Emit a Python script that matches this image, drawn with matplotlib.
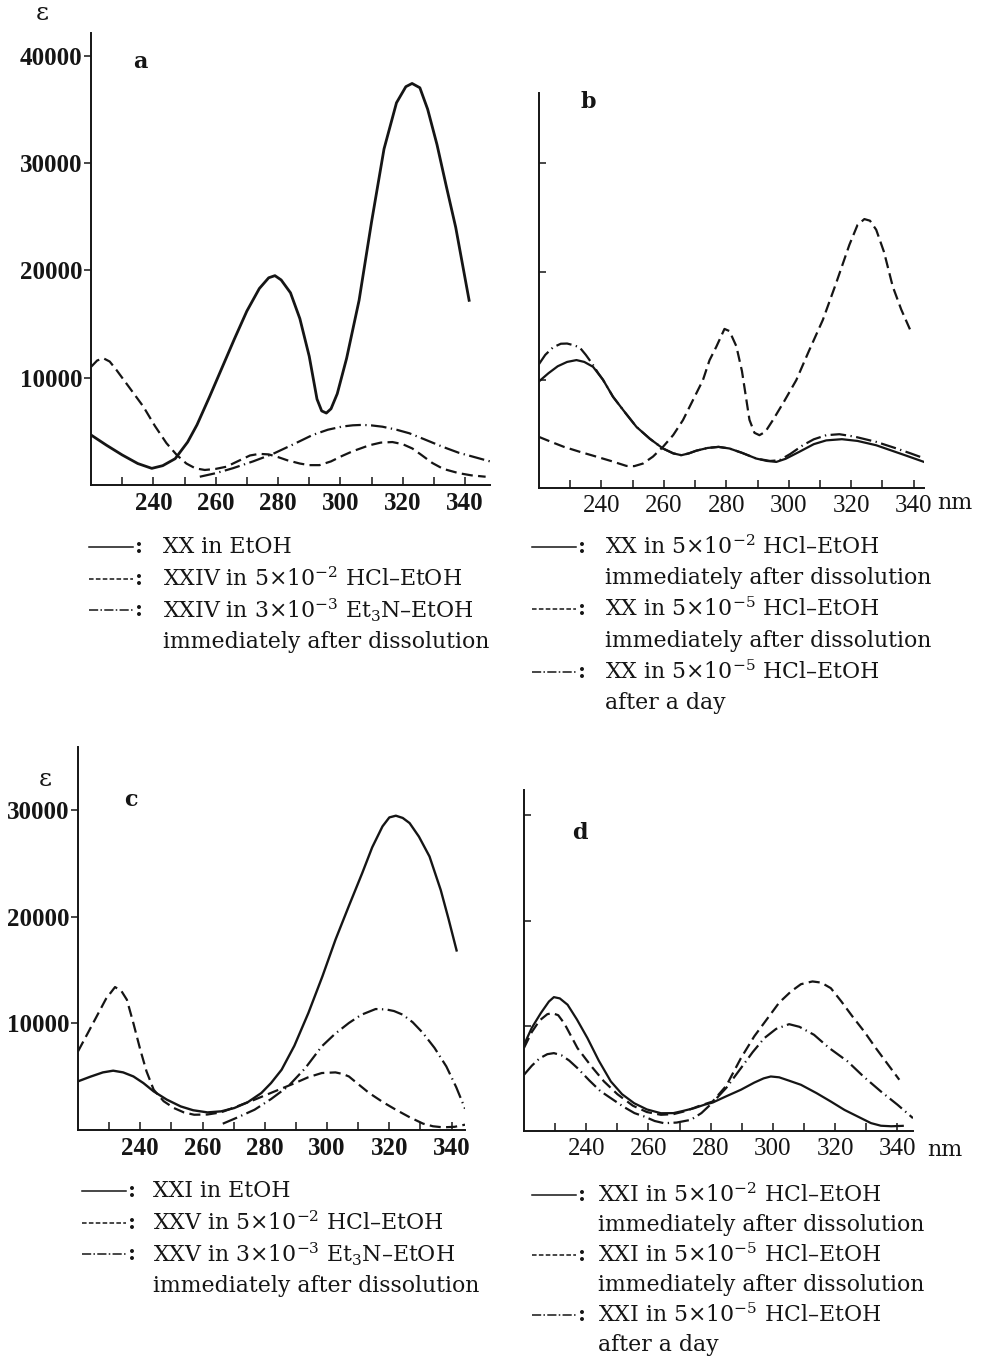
import matplotlib
matplotlib.use("Agg")
import matplotlib.pyplot as plt
from matplotlib.lines import Line2D

plt.rcParams['mathtext.fontset'] = 'dejavuserif'
W, H = 981, 1358
INK = '#151515'

# ---------------- data (wavelength nm, epsilon) ----------------
# panel a
a_xx_x = [220, 225, 230, 235, 239.5, 243, 247, 251, 254, 258, 262, 266, 270, 274, 277, 279, 281, 284, 287, 290,
          292.5, 294, 295.5, 297, 299, 302, 306, 310, 314, 318, 321, 323, 325.5, 328, 331, 334, 337, 341.3]
a_xx_y = [4660, 3700, 2800, 2000, 1550, 1800, 2450, 4000, 5600, 8200, 10900, 13600, 16200, 18300, 19300, 19500,
          19100, 17900, 15500, 12000, 8000, 6900, 6700, 7100, 8500, 11800, 17200, 24500, 31300, 35600, 37100,
          37400, 37000, 35000, 31700, 27800, 24000, 17200]
a_hcl_x = [220, 222, 224, 226, 228.2, 232, 236.8, 240.5, 244.2, 247.5, 250.6, 253.5, 256.5, 260, 263.4, 267, 271,
           274, 277, 280, 283, 287, 290, 293.3, 297, 300.5, 304, 309.3, 313, 316.7, 320, 323.1, 326, 329.5, 333,
           338, 342, 346.6]
a_hcl_y = [11000, 11600, 11800, 11500, 10700, 9200, 7300, 5500, 3900, 2800, 2000, 1550, 1400, 1500, 1700, 2200,
           2750, 2900, 2850, 2600, 2300, 2000, 1850, 1850, 2200, 2700, 3150, 3700, 3950, 4000, 3800, 3400, 2800,
           2050, 1500, 1100, 900, 770]
a_et_x = [254.9, 260, 265.5, 272, 278.3, 285, 291.1, 296, 300.7, 304, 307.1, 310, 313.5, 318, 322.1, 327, 332.7,
          338, 343, 348]
a_et_y = [770, 1100, 1560, 2200, 2890, 3800, 4660, 5150, 5450, 5560, 5600, 5550, 5430, 5150, 4820, 4250, 3570,
          3000, 2600, 2200]

# panel b
b_s_x = [220, 223, 226, 229, 232, 234.5, 237.3, 240.5, 243.7, 247.5, 251.2, 255.5, 259.7, 263, 265.6, 268, 270.4,
         274, 277.5, 281, 285, 289.6, 293, 296, 299, 303.4, 308, 312, 317, 322, 328, 333, 338, 343.3]
b_s_y = [9850, 10600, 11250, 11650, 11820, 11650, 11200, 10000, 8430, 7000, 5650, 4550, 3650, 3200, 3030, 3200,
         3450, 3700, 3800, 3650, 3250, 2720, 2500, 2410, 2700, 3350, 4050, 4400, 4510, 4350, 3950, 3450, 2950, 2410]
b_d_x = [220, 224, 228, 233, 238.7, 243, 248, 250.5, 253.3, 256.5, 259.7, 263, 266.1, 269.3, 272.5, 274.6, 276.8,
         279.4, 281, 283.2, 285, 287.4, 289, 290.6, 292.5, 294.9, 298.5, 302.4, 306.5, 310.9, 315, 319.4, 322,
         324.2, 326, 328, 330.5, 333.3, 336, 338.8]
b_d_y = [4720, 4250, 3800, 3350, 2870, 2500, 2040, 2020, 2260, 2900, 3800, 4900, 6270, 8120, 9970, 11800, 13060,
         14700, 14500, 13100, 10800, 6300, 5100, 4880, 5200, 6270, 8000, 9970, 12700, 15530, 18800, 22470, 24300,
         24850, 24700, 23860, 21800, 18610, 16500, 14660]
b_dd_x = [220, 222, 224.5, 227, 229, 231, 233, 235, 237, 239, 240.5, 243.7, 247.5, 251.2, 255.5, 259.7, 263, 265.6,
          268, 270.4, 274, 277.5, 281, 285, 289.6, 292, 294, 297, 300.5, 304.5, 308, 312, 316.2, 321, 328, 334,
          339, 343.3]
b_dd_y = [11450, 12300, 13000, 13330, 13350, 13200, 13000, 12300, 11500, 10600, 10000, 8430, 7000, 5650, 4550,
          3650, 3200, 3030, 3200, 3450, 3700, 3800, 3650, 3250, 2720, 2600, 2500, 2560, 3150, 3950, 4500, 4880,
          4970, 4750, 4260, 3700, 3200, 2750]

# panel c
c_xxi_x = [220, 224, 228, 231.3, 234.5, 237.8, 241, 244.3, 248.5, 253, 257, 261.6, 266, 270.2, 274.5, 278.9, 282,
           285.4, 289.5, 294, 298.5, 302.7, 307, 311.3, 314.5, 317.8, 320, 322.1, 324.3, 326.5, 329.5, 332.9,
           336.5, 339, 341.6]
c_xxi_y = [4560, 5000, 5400, 5560, 5400, 5020, 4400, 3620, 2850, 2210, 1850, 1650, 1750, 2060, 2600, 3470, 4400,
           5650, 7900, 10970, 14400, 17840, 21000, 24090, 26500, 28460, 29300, 29460, 29250, 28770, 27500, 25640,
           22500, 19800, 16830]
c_hcl_x = [220, 223, 226, 229, 231.9, 234, 235.7, 237.8, 240, 242, 244.3, 247.5, 250.8, 254, 257.3, 261.5, 265.9,
           271, 276.7, 283, 289.7, 294, 298.3, 302.7, 305, 307, 310, 313.5, 318, 322.1, 326.5, 330.8, 334, 337.2,
           341, 344.3]
c_hcl_y = [7370, 9000, 10650, 12300, 13400, 13000, 12210, 10000, 7530, 5500, 3780, 2700, 2060, 1650, 1430, 1450,
           1650, 2200, 2840, 3600, 4400, 4950, 5340, 5400, 5250, 5020, 4300, 3470, 2600, 1900, 1200, 600, 350,
           250, 300, 500]
c_et_x = [266.5, 271, 276.7, 282, 287.5, 293, 298.3, 302.5, 307, 311, 315.6, 319, 321.5, 324.3, 327.5, 330.8,
          334.5, 338.3, 341.5, 344.3]
c_et_y = [590, 1150, 1900, 2900, 4090, 5800, 7840, 9000, 10030, 10800, 11340, 11300, 11150, 10810, 10100, 9090,
          7700, 5960, 4000, 2000]

# panel d
d_s_x = [220, 222.5, 225.4, 228, 229.6, 231.5, 234, 237, 240.4, 244, 247.9, 251.5, 255.4, 259.5, 264, 268, 271,
         274.7, 278, 280.6, 285, 289.7, 294, 297, 299.3, 302, 305, 309, 314, 318.6, 323, 328.3, 331.5, 334.7,
         338, 341.7]
d_s_y = [8190, 9800, 11200, 12300, 12720, 12600, 12000, 10600, 8820, 6700, 4710, 3500, 2640, 2050, 1690, 1700,
         1900, 2170, 2500, 2700, 3300, 3920, 4600, 5000, 5180, 5100, 4800, 4390, 3600, 2800, 2000, 1220, 750,
         500, 450, 490]
d_d_x = [220, 222.5, 225, 227.5, 229.1, 231, 233, 237.2, 241.5, 245.7, 250, 255, 259.5, 264, 268, 272, 276, 280.6,
         285, 289.7, 294, 298.3, 302, 305.8, 309, 312.7, 315.5, 318.6, 322, 325.5, 329.3, 333, 336.5, 340.6]
d_d_y = [7900, 9400, 10500, 11100, 11200, 11000, 10200, 7870, 6200, 4710, 3500, 2400, 1800, 1540, 1600, 1900,
         2350, 2800, 4300, 6920, 9000, 10720, 12200, 13260, 13950, 14210, 14100, 13570, 12300, 10900, 9460, 7900,
         6500, 4870]
d_dd_x = [220, 222.5, 225, 227.5, 229.6, 232, 234.5, 237.2, 241, 244.5, 247.9, 252, 255.5, 258.6, 262, 265, 269,
          273.6, 277, 280.6, 285, 289.7, 293.5, 297.2, 301, 305.2, 308.5, 313.2, 318, 324, 329, 334.7, 340, 345]
d_dd_y = [5340, 6200, 6900, 7300, 7400, 7200, 6700, 5970, 4800, 3800, 3120, 2300, 1700, 1380, 950, 740, 800, 1060,
          1700, 2700, 4100, 5970, 7500, 8820, 9700, 10150, 9900, 9140, 7900, 6610, 5200, 3750, 2500, 1220]

xmajor = [240, 260, 280, 300, 320, 340]
xminor = [230, 250, 270, 290, 310, 330]
yticks = [10000, 20000, 30000, 40000]

# ---------------- styles ----------------
SOLID = '-'
DASH = (0, (5, 2.4))
DASHDOT = (0, (7, 2, 0.6, 2))

fig = plt.figure(figsize=(W / 100, H / 100), dpi=100)


def box(l, t, r, b):
    return [l / W, 1 - b / H, (r - l) / W, (b - t) / H]


def setup(ax, xlim, ylim, ylabels, ydir, bold):
    ax.set_xlim(*xlim)
    ax.set_ylim(*ylim)
    for s in ('top', 'right'):
        ax.spines[s].set_visible(False)
    for s in ('left', 'bottom'):
        ax.spines[s].set_linewidth(1.4)
        ax.spines[s].set_color(INK)
    ax.set_xticks(xmajor)
    ax.set_xticks(xminor, minor=True)
    ax.tick_params(axis='x', which='both', direction='in', length=6, width=1.1, colors=INK, pad=5)
    fw = 'bold' if bold else 'normal'
    ax.set_xticklabels([str(v) for v in xmajor], fontfamily='Liberation Serif', fontsize=18, fontweight=fw)
    yt = [v for v in yticks if v < ylim[1]]
    ax.set_yticks(yt)
    ax.tick_params(axis='y', direction=ydir, length=5, width=1.1, colors=INK, pad=1)
    if ylabels:
        ax.set_yticklabels([str(v) for v in yt], fontfamily='Liberation Serif', fontsize=18, fontweight='bold')
    else:
        ax.set_yticklabels([])


LW = 1.6
axa = fig.add_axes(box(91, 33, 490, 485))
setup(axa, (220, 348), (0, 42100), True, 'out', True)
axa.plot(a_xx_x, a_xx_y, color=INK, lw=2.0, ls=SOLID, solid_joinstyle='round')
axa.plot(a_hcl_x, a_hcl_y, color=INK, lw=LW, ls=DASH)
axa.plot(a_et_x, a_et_y, color=INK, lw=LW, ls=DASHDOT)

axb = fig.add_axes(box(539, 93, 924, 488))
setup(axb, (220, 343.3), (0, 36500), False, 'in', False)
axb.plot(b_s_x, b_s_y, color=INK, lw=LW, ls=SOLID, solid_joinstyle='round')
axb.plot(b_d_x, b_d_y, color=INK, lw=LW, ls=DASH)
axb.plot(b_dd_x, b_dd_y, color=INK, lw=LW, ls=DASHDOT)

axc = fig.add_axes(box(78, 747, 465, 1130))
setup(axc, (220, 344.3), (0, 35900), True, 'out', True)
axc.plot(c_xxi_x, c_xxi_y, color=INK, lw=1.7, ls=SOLID, solid_joinstyle='round')
axc.plot(c_hcl_x, c_hcl_y, color=INK, lw=LW, ls=DASH)
axc.plot(c_et_x, c_et_y, color=INK, lw=LW, ls=DASHDOT)

axd = fig.add_axes(box(524, 790, 913, 1131))
setup(axd, (220, 345), (0, 32400), False, 'in', False)
axd.plot(d_s_x, d_s_y, color=INK, lw=LW, ls=SOLID, solid_joinstyle='round')
axd.plot(d_d_x, d_d_y, color=INK, lw=LW, ls=DASH)
axd.plot(d_dd_x, d_dd_y, color=INK, lw=LW, ls=DASHDOT)


def ftext(x, y, s, **kw):
    fig.text(x / W, 1 - y / H, s, color=INK, **kw)


# axis annotations
ftext(42, 14, 'ε', fontfamily='DejaVu Serif', fontsize=18, ha='center', va='center')
ftext(45, 780, 'ε', fontfamily='DejaVu Serif', fontsize=18, ha='center', va='center')
for lab, x, y in (('a', 140, 62), ('b', 588, 102), ('c', 131, 800), ('d', 580, 833)):
    ftext(x, y, lab, fontfamily='DejaVu Serif', fontsize=16, fontweight='bold', ha='center', va='center')
ftext(955, 503, 'nm', fontfamily='DejaVu Serif', fontsize=16, ha='center', va='center')
ftext(945, 1150, 'nm', fontfamily='DejaVu Serif', fontsize=16, ha='center', va='center')

# legends
leg_a = [(SOLID, 'XX in EtOH'),
         (DASH, r'XXIV in 5$\times$10$^{-2}$ HCl–EtOH'),
         (DASHDOT, r'XXIV in 3$\times$10$^{-3}$ Et$_3$N–EtOH'),
         (None, 'immediately after dissolution')]
leg_b = [(SOLID, r'XX in 5$\times$10$^{-2}$ HCl–EtOH'),
         (None, 'immediately after dissolution'),
         (DASH, r'XX in 5$\times$10$^{-5}$ HCl–EtOH'),
         (None, 'immediately after dissolution'),
         (DASHDOT, r'XX in 5$\times$10$^{-5}$ HCl–EtOH'),
         (None, 'after a day')]
leg_c = [(SOLID, 'XXI in EtOH'),
         (DASH, r'XXV in 5$\times$10$^{-2}$ HCl–EtOH'),
         (DASHDOT, r'XXV in 3$\times$10$^{-3}$ Et$_3$N–EtOH'),
         (None, 'immediately after dissolution')]
leg_d = [(SOLID, r'XXI in 5$\times$10$^{-2}$ HCl–EtOH'),
         (None, 'immediately after dissolution'),
         (DASH, r'XXI in 5$\times$10$^{-5}$ HCl–EtOH'),
         (None, 'immediately after dissolution'),
         (DASHDOT, r'XXI in 5$\times$10$^{-5}$ HCl–EtOH'),
         (None, 'after a day')]

SYM = {SOLID: '-', DASH: (0, (3, 1.5)), DASHDOT: (0, (6, 1.5, 1, 1.5))}


def legend(entries, x0, xtext, y0, dy):
    for i, (ls, txt) in enumerate(entries):
        y = y0 + i * dy
        if ls is not None:
            fig.add_artist(Line2D([x0 / W, (x0 + 44) / W], [1 - y / H, 1 - y / H], color=INK, lw=1.1,
                                  ls=SYM[ls]))
            ftext(x0 + 50, y, ':', fontfamily='DejaVu Serif', fontsize=15.5, ha='center', va='center',
                  fontweight='bold')
        ftext(xtext, y, txt, fontfamily='DejaVu Serif', fontsize=15.8, ha='left', va='center')


legend(leg_a, 89, 163, 547, 31.7)
legend(leg_b, 532, 605, 547, 31.2)
legend(leg_c, 82, 153, 1191, 31.7)
legend(leg_d, 532, 598, 1195, 30.0)

fig.savefig('out.png', dpi=100, facecolor='white')
